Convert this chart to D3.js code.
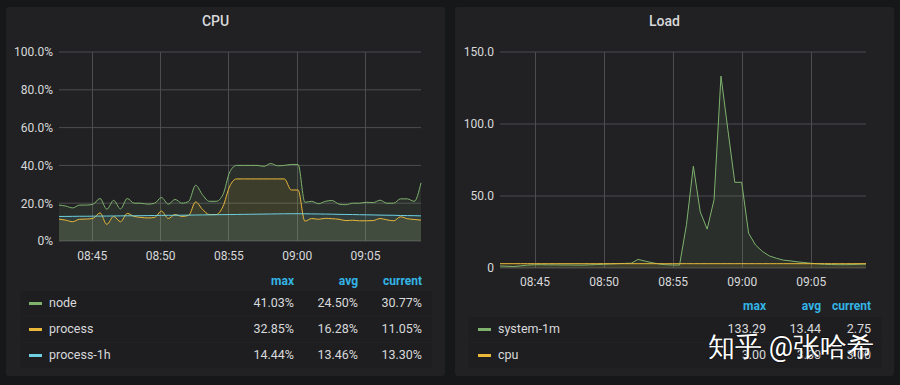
<!DOCTYPE html>
<html lang="en">
<head>
<meta charset="UTF-8">
<title>CPU / Load</title>
<style>
  body { margin: 0; background: #161719; }
  svg text { font-family: Roboto, "Noto Sans", sans-serif; }
</style>
</head>
<body>
<script src="https://d3js.org/d3.v7.min.js"></script>
<script>
const width = 900, height = 385;

// ---- CPU panel data (samples every 30s) ----
const cpuStart = "08:42:36";
const cpuNode = [19, 18.5, 17.5, 19, 19, 19.5, 22.5, 16.8, 21.5, 17, 22.5, 20, 20, 19.5, 20, 23,
  19.5, 22, 20, 21, 29.5, 24.5, 21, 21, 24.5, 36.5, 40, 40, 40, 40, 39.5, 41, 39.8, 40, 40.5, 40.5,
  20.5, 21, 19.7, 21, 21.4, 19.5, 19.2, 20, 20, 20.5, 20.3, 21.6, 20, 20, 22.3, 22.3, 21, 30.77];
const cpuProcess = [11.6, 11, 10.2, 11.5, 11.6, 12, 14.9, 8.8, 13, 10.2, 14.6, 13, 12.5, 12.2, 12.5, 15.8,
  11.9, 14, 13, 13.6, 20.7, 16.8, 14, 14, 18.2, 29, 32.85, 32.85, 32.85, 32.85, 32.85, 32.85, 32.85, 32.85, 27, 27,
  10.5, 11.9, 11.5, 12, 11.8, 11.5, 10.8, 11, 10.7, 10.7, 10.8, 11.9, 11.2, 10.7, 12.8, 11.8, 11.4, 11.05];
const cpuProcess1h = [13.0, 13.0, 13.05, 13.1, 13.1, 13.15, 13.2, 13.2, 13.25, 13.3, 13.35, 13.35, 13.4, 13.45, 13.5, 13.55,
  13.6, 13.6, 13.65, 13.7, 13.75, 13.8, 13.85, 13.9, 13.95, 14.0, 14.05, 14.1, 14.15, 14.2, 14.25, 14.3, 14.35, 14.4, 14.44, 14.44,
  14.4, 14.35, 14.3, 14.25, 14.2, 14.1, 14.05, 14.0, 13.9, 13.85, 13.8, 13.7, 13.65, 13.6, 13.5, 13.45, 13.4, 13.3];
const cpuYTicks = [0, 20, 40, 60, 80, 100];
const cpuLegendRows = [
  { name: "node", color: "#7eb26d", max: "41.03%", avg: "24.50%", current: "30.77%" },
  { name: "process", color: "#eab839", max: "32.85%", avg: "16.28%", current: "11.05%" },
  { name: "process-1h", color: "#6ed0e0", max: "14.44%", avg: "13.46%", current: "13.30%" }
];

// ---- Load panel data (samples every 30s) ----
const loadStart = "08:42:30";
const loadSystem1m = [1.4, 1.2, 1.0, 1.5, 2.0, 2.3, 2.3, 2.2, 2.2, 2.1, 2.1, 2.0, 2.0, 2.2, 2.4, 2.6,
  2.8, 3.0, 3.2, 3.3, 6.0, 4.8, 3.7, 2.8, 2.3, 2.1, 2.0, 30, 70.7, 39, 27, 47.5, 133.29, 96, 59.5, 59.5,
  24.2, 16, 11.5, 8.4, 6.8, 5.5, 5.0, 4.3, 3.8, 3.3, 2.9, 2.6, 2.4, 2.3, 2.3, 2.4, 2.6, 2.75];
const loadCpu = [3, 3, 3, 3, 3, 3, 3, 3, 3, 3, 3, 3, 3, 3, 3, 3, 3, 3, 3, 3, 3, 3, 3, 3, 3, 3, 3,
  3, 3, 3, 3, 3, 3, 3, 3, 3, 3, 3, 3, 3, 3, 3, 3, 3, 3, 3, 3, 3, 3, 3, 3, 3, 3, 3];
const loadYTicks = [0, 50, 100, 150];
const loadLegendRows = [
  { name: "system-1m", color: "#7eb26d", max: "133.29", avg: "13.44", current: "2.75" },
  { name: "cpu", color: "#eab839", max: "3.00", avg: "3.00", current: "3.00" }
];

const parseTime = d3.timeParse("%H:%M:%S");
function timesFor(start, n) {
  const t0 = parseTime(start);
  return d3.range(n).map(i => d3.timeSecond.offset(t0, 30 * i));
}

const svg = d3.select("body").append("svg")
  .attr("width", width)
  .attr("height", height);

function drawPanel(opt) {
  const g = svg.append("g");
  g.append("rect")
    .attr("x", opt.box[0]).attr("y", opt.box[1])
    .attr("width", opt.box[2]).attr("height", opt.box[3])
    .attr("rx", 3)
    .attr("fill", "#212124");

  g.append("text")
    .attr("x", opt.box[0] + opt.box[2] / 2 - 10)
    .attr("y", 26)
    .attr("text-anchor", "middle")
    .attr("fill", "#d8d9da")
    .attr("font-size", 14)
    .attr("font-weight", 500)
    .text(opt.title);

  const times = timesFor(opt.start, opt.series[0].values.length);
  const x = d3.scaleTime()
    .domain([times[0], times[times.length - 1]])
    .range(opt.xRange);
  const y = d3.scaleLinear()
    .domain(opt.yDomain)
    .range(opt.yRange);

  // grid
  const xTicks = x.ticks(d3.timeMinute.every(5));
  g.append("g").selectAll("line.h")
    .data(opt.yTicks)
    .join("line")
    .attr("x1", opt.xRange[0]).attr("x2", opt.xRange[1])
    .attr("y1", d => y(d)).attr("y2", d => y(d))
    .attr("stroke", "#4d4d50").attr("stroke-width", 1);
  g.append("g").selectAll("line.v")
    .data(xTicks)
    .join("line")
    .attr("x1", d => Math.round(x(d)) + 0.5).attr("x2", d => Math.round(x(d)) + 0.5)
    .attr("y1", opt.yRange[1]).attr("y2", opt.yRange[0])
    .attr("stroke", "#4d4d50").attr("stroke-width", 1);

  // axes
  const yAxis = g.append("g")
    .attr("transform", `translate(${opt.xRange[0]},0)`)
    .call(d3.axisLeft(y).tickValues(opt.yTicks).tickSize(0).tickPadding(6).tickFormat(opt.yFormat));
  const xAxis = g.append("g")
    .attr("transform", `translate(0,${opt.yRange[0]})`)
    .call(d3.axisBottom(x).tickValues(xTicks).tickSize(0).tickPadding(opt.xPad).tickFormat(d3.timeFormat("%H:%M")));
  [yAxis, xAxis].forEach(a => {
    a.select(".domain").remove();
    a.selectAll("text").attr("fill", "#d8d9da").attr("font-size", 12)
      .attr("font-family", "Roboto, 'Noto Sans', sans-serif");
  });

  // fills, then lines
  const area = d3.area()
    .curve(opt.curve)
    .x((d, i) => x(times[i]))
    .y0(y(0))
    .y1(d => y(d));
  const line = d3.line()
    .curve(opt.curve)
    .x((d, i) => x(times[i]))
    .y(d => y(d));
  opt.series.forEach(s => {
    g.append("path").attr("d", area(s.values))
      .attr("fill", s.color).attr("fill-opacity", 0.1);
  });
  opt.series.forEach(s => {
    g.append("path").attr("d", line(s.values))
      .attr("fill", "none").attr("stroke", s.color).attr("stroke-width", 1)
      .attr("stroke-linejoin", "round");
  });

  // legend table
  const L = opt.legend;
  const head = g.append("g").attr("font-size", 12).attr("font-weight", 700).attr("fill", "#33b5e5")
    .attr("text-anchor", "end");
  ["max", "avg", "current"].forEach((h, i) => {
    head.append("text").attr("x", L.cols[i]).attr("y", L.headY).text(h);
  });
  const rows = g.append("g").selectAll("g")
    .data(L.rows)
    .join("g")
    .attr("transform", (d, i) => `translate(0,${L.rowY + i * 26})`);
  rows.append("rect")
    .attr("x", L.band[0]).attr("width", L.band[1] - L.band[0])
    .attr("y", -16).attr("height", 25)
    .attr("fill", "#1e1e21");
  rows.append("rect")
    .attr("x", L.swatchX).attr("y", -5).attr("width", 13).attr("height", 3)
    .attr("fill", d => d.color);
  rows.append("text")
    .attr("x", L.swatchX + 20).attr("y", 0)
    .attr("fill", "#d8d9da").attr("font-size", 12.5)
    .text(d => d.name);
  ["max", "avg", "current"].forEach((k, i) => {
    rows.append("text")
      .attr("x", L.cols[i]).attr("y", 0)
      .attr("text-anchor", "end")
      .attr("fill", "#d8d9da").attr("font-size", 12.5)
      .text(d => d[k]);
  });
}

drawPanel({
  box: [6, 7, 439, 369],
  title: "CPU",
  start: cpuStart,
  series: [
    { color: "#7eb26d", values: cpuNode },
    { color: "#eab839", values: cpuProcess },
    { color: "#6ed0e0", values: cpuProcess1h }
  ],
  curve: d3.curveMonotoneX,
  xRange: [59, 421],
  yDomain: [0, 100],
  yRange: [241, 52],
  yTicks: cpuYTicks,
  yFormat: d => d === 0 ? "0%" : d3.format(".1f")(d) + "%",
  xPad: 10,
  legend: {
    rows: cpuLegendRows,
    headY: 285, rowY: 307,
    cols: [294, 358, 422],
    band: [20, 432],
    swatchX: 29
  }
});

drawPanel({
  box: [455, 7, 439, 369],
  title: "Load",
  start: loadStart,
  series: [
    { color: "#7eb26d", values: loadSystem1m },
    { color: "#eab839", values: loadCpu }
  ],
  curve: d3.curveLinear,
  xRange: [500, 866],
  yDomain: [0, 150],
  yRange: [268, 52],
  yTicks: loadYTicks,
  yFormat: d => d === 0 ? "0" : d3.format(".1f")(d),
  xPad: 9.5,
  legend: {
    rows: loadLegendRows,
    headY: 310, rowY: 333,
    cols: [766, 821, 871],
    band: [468, 882],
    swatchX: 478
  }
});

// watermark (part of the reference image)
svg.append("text")
  .attr("x", 708).attr("y", 356)
  .attr("font-family", "'Noto Sans CJK SC', sans-serif")
  .attr("font-size", 27)
  .attr("fill", "#ffffff")
  .attr("stroke", "rgba(0,0,0,0.55)")
  .attr("stroke-width", 1.5)
  .attr("paint-order", "stroke")
  .text("知乎 @张哈希");
</script>
</body>
</html>
